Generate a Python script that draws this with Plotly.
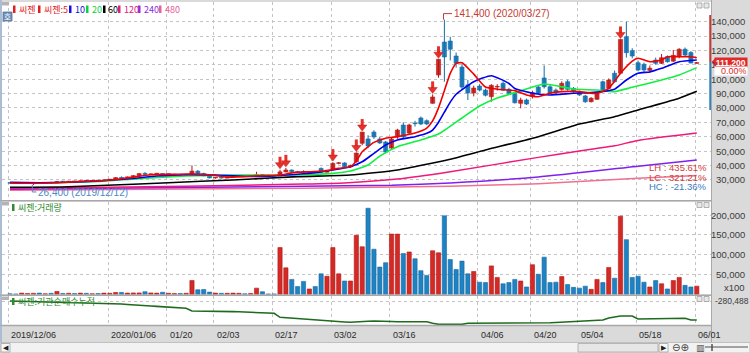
import plotly.graph_objects as go

W, H = 750, 353

# ---------------- data ----------------
tick_text = ["2019/12/06", "2020/01/06", "01/20", "02/03", "02/17", "03/02", "03/16",
             "04/06", "04/20", "05/04", "05/18", "06/01"]
tick_idx = [0, 17, 27, 35, 45, 55, 65, 80, 89, 97, 107, 117]

opens = [27900, 27600, 27400, 27700, 27300, 27600, 27500, 27900, 27800, 28800,
         28600, 28900, 28800, 29300, 29100, 29400, 29300, 29900, 30400, 31500,
         31200, 32000, 32900, 34500, 33700, 34100, 34300, 33800, 33400, 33600,
         33300, 33600, 36000, 34400, 32800, 31300, 31600, 31200, 31900, 32400,
         32800, 32500, 32900, 33700, 33100, 32900, 32700, 35500, 36800, 35700,
         35800, 35000, 35500, 37900, 35300, 37500, 41400, 41700, 39000, 42500,
         55400, 58400, 63200, 58400, 56300, 52100, 59800, 68100, 62500, 69500,
         73000, 71100, 83200, 102900, 125800, 126500, 116100, 108400, 96000, 90400,
         95200, 92400, 87800, 94500, 97100, 92900, 90200, 83200, 85500, 87800,
         94500, 100800, 94700, 92400, 92900, 98200, 93600, 91300, 88300, 84300,
         86000, 98200, 93600, 104100, 104100, 129500, 119800, 111400, 110300, 106100,
         113300, 111000, 115600, 112500, 115600, 120800, 118500, 111000]
highs = [28200, 27800, 27900, 27900, 27800, 28000, 28000, 28200, 29100, 29000,
         29100, 29200, 29400, 29600, 29500, 29800, 30100, 30600, 31800, 32300,
         32300, 33200, 34600, 35300, 34400, 34500, 34600, 34100, 33900, 33900,
         33800, 40000, 36800, 34900, 33200, 31900, 32000, 32100, 32600, 33000,
         33000, 33100, 35600, 34000, 33400, 33200, 37000, 38300, 37200, 36200,
         36600, 35800, 35900, 38600, 36900, 42300, 42400, 42200, 40500, 49000,
         63200, 61000, 64500, 60000, 57000, 59500, 65500, 70000, 69000, 71000,
         74000, 72000, 89400, 113800, 141400, 129500, 118500, 110500, 99500, 95500,
         96500, 93500, 96500, 96500, 98500, 94000, 91000, 87100, 86500, 92000,
         96000, 109600, 96000, 93500, 98500, 99500, 94500, 92000, 89000, 87500,
         91000, 99000, 100500, 106000, 127600, 140000, 121500, 113000, 111500, 109500,
         115000, 117500, 116500, 120300, 121500, 122000, 119500, 111900]
lows = [27500, 27200, 27200, 27300, 26400, 27300, 27300, 27600, 27700, 28400,
        28400, 28600, 28700, 29000, 28900, 29100, 29200, 29700, 30300, 31000,
        31100, 31800, 32700, 33400, 33500, 33700, 33600, 33300, 33000, 33200,
        33100, 33500, 34000, 32500, 31000, 30800, 31000, 31100, 31700, 32200,
        32300, 32300, 32800, 32900, 32700, 32500, 32600, 35200, 35300, 34800,
        34700, 34800, 35000, 35000, 35100, 37300, 40800, 38600, 38500, 42000,
        54000, 52000, 58500, 55000, 48500, 51500, 58500, 59000, 61500, 67000,
        68000, 68000, 83000, 101000, 98200, 113000, 108000, 93000, 85500, 88000,
        91500, 88000, 84300, 92000, 91800, 89500, 83000, 79700, 82000, 86500,
        89500, 93500, 89500, 89800, 92000, 92000, 90500, 88300, 83500, 83800,
        85500, 91500, 93000, 97500, 103500, 115000, 114500, 105500, 105000, 104500,
        110000, 110500, 111500, 112000, 114500, 115500, 111000, 110800]
closes = [27600, 27400, 27700, 27800, 27600, 27500, 27900, 27800, 28800, 28600,
          28900, 28800, 29300, 29100, 29400, 29300, 29900, 30400, 31500, 31200,
          32000, 32900, 34300, 33700, 34100, 34300, 33800, 33900, 33600, 33300,
          33600, 36000, 34400, 32800, 31300, 31600, 31200, 31900, 32400, 32800,
          32500, 32900, 33700, 33100, 32900, 32700, 35500, 36800, 35700, 35100,
          35000, 35500, 35200, 35300, 36700, 41400, 41700, 39000, 40000, 48600,
          63200, 53500, 59800, 55600, 49300, 58400, 64600, 59800, 68100, 69000,
          68800, 68800, 87600, 113800, 115400, 120800, 111000, 94500, 90400, 93800,
          92400, 88800, 95700, 95000, 92400, 90200, 83600, 85500, 82700, 90600,
          90200, 94700, 90200, 90500, 97100, 92900, 91300, 89000, 84300, 86700,
          90200, 92400, 99400, 98200, 127600, 118400, 116100, 106400, 106400, 107600,
          111000, 114900, 112100, 116500, 120800, 116800, 111200, 111200]
volumes = [2000, 1500, 3500, 2500, 3000, 3500, 2000, 3000, 7500, 2500,
           3000, 2500, 3500, 3000, 2000, 2500, 3500, 3000, 5000, 5000,
           3500, 4000, 4000, 7000, 4000, 3500, 5500, 3000, 2500, 2500,
           3000, 35000, 12000, 12500, 6000, 3500, 3000, 3000, 3500, 3000,
           2000, 2500, 16000, 7000, 1500, 1500, 118000, 67000, 38000, 20000,
           33000, 14000, 20000, 52000, 46000, 118000, 52000, 34000, 34000, 149000,
           120000, 217000, 114000, 69000, 80000, 152000, 152000, 103000, 107000, 90000,
           60000, 48000, 110000, 105000, 198000, 88000, 63000, 84000, 52000, 58000,
           31000, 30000, 72000, 43000, 27000, 30000, 38000, 34000, 19000, 75000,
           51000, 94000, 30000, 31000, 45000, 25000, 18000, 16000, 21000, 13000,
           38000, 30000, 68000, 41000, 197000, 138000, 43000, 46000, 31000, 19000,
           35000, 27000, 14000, 35000, 43000, 23000, 19000, 21000]
inst_cum = [-280500, -282000, -284000, -286000, -288900, -292500, -293500, -294500, -295500, -296100,
            -298500, -300000, -301500, -303000, -304500, -305500, -306900, -308100, -312000, -316000,
            -322000, -328500, -332100, -336000, -340000, -344500, -348900, -352500, -357000, -362500,
            -368100, -400500, -400500, -400500, -402000, -403500, -405000, -406500, -408000, -410000,
            -412000, -414000, -416100, -420000, -424000, -428100, -476100, -482000, -486000, -488100,
            -494000, -500000, -505000, -510000, -514500, -520500, -526000, -532000, -536100, -530000,
            -528900, -524000, -521000, -520500, -522000, -526000, -528900, -528900, -528900, -528900,
            -528900, -528900, -548000, -560100, -560100, -560100, -560100, -560100, -548100, -548100,
            -548100, -548100, -548100, -548100, -548100, -548100, -548100, -548100, -548100, -548100,
            -548100, -546000, -542000, -538000, -534000, -529000, -524000, -520500, -517000, -514500,
            -508500, -508500, -484500, -472000, -460500, -460500, -460500, -496500, -496500, -496500,
            -496500, -496500, -496500, -496500, -488100, -488100, -508500, -508500]

ma5_i = [0, 4, 8, 12, 16, 20, 24, 28, 31, 34, 37, 40, 43, 46, 48, 51, 54, 56, 58, 59, 60, 62, 64,
         66, 69, 71, 72, 73, 74, 75, 76, 77, 79, 81, 83, 86, 88, 90, 92, 94, 97, 100, 102, 104,
         106, 107, 109, 111, 112, 114, 116, 117]
ma5_v = [27800, 27600, 28000, 28800, 29500, 31300, 33500, 33800, 34000, 33500, 31900, 32300, 32900,
         33300, 34800, 35600, 36300, 38000, 39000, 43000, 49500, 56000, 58900, 60000, 62500, 66000,
         71000, 80000, 92000, 104000, 111000, 111400, 103500, 94500, 93000, 92000, 89000, 87800,
         90200, 91300, 91300, 90000, 93600, 104100, 112500, 114500, 112100, 113300, 115600, 115600,
         115600, 114900]
ma10_i = [0, 5, 10, 15, 20, 25, 30, 35, 40, 45, 50, 53, 55, 58, 60, 62, 64, 66, 69, 71, 72, 73, 74,
          75, 76, 79, 82, 85, 86, 89, 92, 96, 99, 103, 105, 107, 109, 111, 114, 117]
ma10_v = [28200, 28000, 28300, 29200, 30600, 32600, 33600, 33300, 32300, 32700, 34200, 35500, 36800,
          39100, 42500, 48400, 54200, 57700, 60000, 62300, 64600, 70000, 77000, 84000, 89500, 98200,
          102400, 97000, 93500, 90200, 89000, 90200, 90600, 93000, 99400, 104100, 105000, 107500,
          112100, 113300]
ma20_i = [0, 8, 15, 22, 30, 38, 45, 50, 55, 58, 61, 63, 66, 70, 73, 77, 80, 83, 87, 91, 96, 100,
          103, 106, 111, 114, 117]
ma20_v = [27600, 28000, 28800, 30800, 32600, 33300, 33200, 33600, 34500, 36100, 40300, 46500, 53000,
          57700, 61800, 73000, 81300, 86900, 91800, 96600, 93100, 92400, 91300, 94300, 99400, 102900,
          108000]
ma60_i = [0, 10, 21, 27, 38, 49, 58, 66, 75, 81, 90, 97, 103, 108, 114, 117]
ma60_v = [24800, 25200, 26900, 28000, 29900, 32200, 33300, 36800, 44300, 50700, 60000, 68800, 73900,
          79700, 86700, 91500]
ma120_i = [0, 30, 50, 57, 66, 75, 90, 97, 103, 107, 117]
ma120_v = [24000, 25500, 27000, 27800, 30500, 35600, 45600, 50000, 53600, 57400, 62500]
ma240_i = [0, 50, 65, 75, 90, 107, 117]
ma240_v = [23400, 25500, 26200, 27800, 32000, 39500, 43800]
ma480_i = [0, 50, 75, 90, 107, 117]
ma480_v = [22800, 24200, 25500, 27300, 31000, 33000]

price_ticks = [140000, 130000, 120000, 110000, 100000, 90000, 80000, 70000, 60000, 50000, 40000, 30000]
vol_ticks = [200000, 150000, 100000, 50000]
inst_tick = -280488
signal_idx = [46, 47, 55, 59, 60, 72, 73, 104]
high_idx, high_text = 74, "141,400 (2020/03/27)"
low_idx, low_text = 4, "26,400 (2019/12/12)"
last_price_text, last_change_text = "111,200", "0.00%"
stats = [("LH : 435.61%", "#D23C3C"), ("LC : 321.21%", "#D23C3C"), ("HC : -21.36%", "#3A7CC0")]
legend_items = [("씨젠", "#E0201C"), ("씨젠:5", "#E0201C"), ("10", "#1010E0"), ("20", "#10D040"),
                ("60", "#000000"), ("120", "#E0207A"), ("240", "#8A2BE2"), ("480", "#E8609A")]

# ---------------- geometry helpers ----------------
SLOT, X_OFF = 5.87, 10.0


def xi(px):
    return (px - X_OFF) / SLOT


def pp(y):  # paper y from pixel
    return 1 - y / H


def price_at(y):
    return 30000 + (179.8 - y) * 695.4


PX_WON = 695.4
x_range = [xi(2), xi(711)]
price_range = [price_at(200), price_at(2)]
VOL_PX = 200000 / 79.5
vol_range = [0, (294.5 - 201.5) * VOL_PX]
INST_PX = 12000
inst_range = [inst_tick - (325 - 301) * INST_PX, inst_tick + (301 - 296) * INST_PX]

RED, RED_L = "#D42A26", "#B01818"
BLUE, BLUE_L = "#1F82C2", "#176AA3"
AX_FONT = "Liberation Sans, Arial, sans-serif"
KR_FONT = "Noto Sans CJK KR, sans-serif"

fig = go.Figure()

idx = list(range(len(closes)))
up = [i for i in idx if closes[i] >= opens[i]]
dn = [i for i in idx if closes[i] < opens[i]]
MIN_BODY = 450

for group, col, lcol in ((up, RED, RED_L), (dn, BLUE, BLUE_L)):
    wx, wy = [], []
    for i in group:
        wx += [i, i, None]
        wy += [lows[i], highs[i], None]
    fig.add_trace(go.Scatter(x=wx, y=wy, mode="lines", line=dict(color=lcol, width=1),
                             hoverinfo="skip", xaxis="x", yaxis="y"))
    bases = [min(opens[i], closes[i]) for i in group]
    hts = [max(abs(closes[i] - opens[i]), MIN_BODY) for i in group]
    fig.add_trace(go.Bar(x=group, y=hts, base=bases, width=0.7,
                         marker=dict(color=col, line=dict(color=lcol, width=0.6)),
                         xaxis="x", yaxis="y"))

# moving averages
for xs, ys, col, w in ((ma480_i, ma480_v, "#F07090", 1.5), (ma240_i, ma240_v, "#8020F0", 1.5),
                       (ma120_i, ma120_v, "#F0187A", 1.5), (ma60_i, ma60_v, "#000000", 1.6),
                       (ma20_i, ma20_v, "#10F040", 1.6), (ma10_i, ma10_v, "#0000F0", 1.6),
                       (ma5_i, ma5_v, "#F00000", 1.6)):
    fig.add_trace(go.Scatter(x=xs, y=ys, mode="lines", line=dict(color=col, width=w, shape="spline",
                                                                 smoothing=0.5),
                             xaxis="x", yaxis="y"))

# signal arrows
fig.add_trace(go.Scatter(x=signal_idx, y=[highs[s] + 9.5 * PX_WON for s in signal_idx], mode="markers",
                         marker=dict(symbol="line-ns", size=5, line=dict(color="#E83028", width=3)),
                         xaxis="x", yaxis="y"))
fig.add_trace(go.Scatter(x=signal_idx, y=[highs[s] + 5 * PX_WON for s in signal_idx], mode="markers",
                         marker=dict(symbol="triangle-down", size=8, color="#E83028",
                                     line=dict(color="#C01818", width=0.5)),
                         xaxis="x", yaxis="y"))

# volume
fig.add_trace(go.Bar(x=idx, y=volumes, width=0.72,
                     marker=dict(color=[RED if closes[i] >= opens[i] else BLUE for i in idx],
                                 line=dict(color=[RED_L if closes[i] >= opens[i] else BLUE_L for i in idx],
                                           width=0.6)),
                     xaxis="x2", yaxis="y2"))

# institution cumulative
fig.add_trace(go.Scatter(x=idx, y=inst_cum, mode="lines", line=dict(color="#1E6B1E", width=1.6),
                         xaxis="x3", yaxis="y3"))

grid_x = [t - 0.3 for t in tick_idx]
common_x = dict(range=x_range, domain=[2 / W, 711 / W], showgrid=True, gridcolor="#C4C4C4",
                griddash="dot", gridwidth=1, tickvals=grid_x, showticklabels=False, ticks="",
                zeroline=False, showline=False, fixedrange=True)
common_y = dict(showgrid=True, gridcolor="#C4C4C4", griddash="dot", gridwidth=1, showticklabels=False,
                ticks="", zeroline=False, showline=False, fixedrange=True)

fig.update_layout(
    width=W, height=H, margin=dict(l=0, r=0, t=0, b=0),
    paper_bgcolor="#DADADA", plot_bgcolor="#FFFFFF", showlegend=False, barmode="overlay",
    xaxis=dict(anchor="y", **common_x),
    xaxis2=dict(anchor="y2", **common_x),
    xaxis3=dict(anchor="y3", **common_x),
    yaxis=dict(domain=[pp(200), pp(2)], range=price_range, tickvals=price_ticks, anchor="x", **common_y),
    yaxis2=dict(domain=[pp(294.5), pp(201.5)], range=vol_range, tickvals=vol_ticks, anchor="x2", **common_y),
    yaxis3=dict(domain=[pp(325), pp(296)], range=inst_range, tickvals=[inst_tick], anchor="x3", **common_y),
)

ann = []
shapes = []


def text(x, y, s, color="#333333", size=10, xanchor="left", font=AX_FONT, xref="paper", yref="paper",
         **kw):
    ann.append(dict(x=x, y=y, xref=xref, yref=yref, text=s, showarrow=False, xanchor=xanchor,
                    yanchor="middle", font=dict(family=font, size=size, color=color), **kw))


# price axis labels
for p in price_ticks:
    text(747 / W, p, f"{p:,}", xanchor="right", yref="y", size=9.5, color="#3A3A3A")
for v in vol_ticks:
    text(747 / W, v, f"{v:,}", xanchor="right", yref="y2", size=9.5, color="#3A3A3A")
text(747 / W, pp(287), "x100", xanchor="right", size=9.5, color="#3A3A3A")
text(749.5 / W, inst_tick, f"{inst_tick:,}", xanchor="right", yref="y3", size=8.5, color="#3A3A3A",
     borderpad=0)

# date labels
for t, s in zip(tick_idx, tick_text):
    text(t - 0.3, pp(335), s, xref="x", size=9, color="#2A2A2A", xshift=1)

# legend row: colour ticks as shapes + labels
leg_x = [13, 38, 69, 86, 103, 118, 138, 159]
for (s, c), lx in zip(legend_items, leg_x):
    shapes.append(dict(type="rect", xref="paper", yref="paper", x0=lx / W, x1=(lx + 2.5) / W,
                       y0=pp(13), y1=pp(5.5), fillcolor=c, line=dict(width=0)))
    text((lx + 3.5) / W, pp(9.5), s, color=c, size=9, font=KR_FONT)
for yy, s in ((207.5, "씨젠:거래량"), (301.5, "씨젠:기관순매수누적")):
    shapes.append(dict(type="rect", xref="paper", yref="paper", x0=12 / W, x1=14.5 / W,
                       y0=pp(yy + 3.5), y1=pp(yy - 3.5), fillcolor="#2E8B2E", line=dict(width=0)))
    text(16 / W, pp(yy), s, color="#2E8B2E", size=9, font=KR_FONT)

# high / low labels
text(high_idx, highs[high_idx] + 6 * PX_WON, high_text, xref="x", yref="y", color="#C83A32", size=10,
     xshift=8)
text(low_idx, lows[low_idx] - 8 * PX_WON, low_text, xref="x", yref="y", color="#4A88C8", size=10,
     xshift=3)
shapes.append(dict(type="path", xref="x", yref="y", line=dict(color="#C83A32", width=1),
                   path=f"M {high_idx - 0.15},{highs[high_idx]} L {high_idx - 0.15},{highs[high_idx] + 6 * PX_WON} "
                        f"L {high_idx + 1.3},{highs[high_idx] + 6 * PX_WON}"))
shapes.append(dict(type="path", xref="x", yref="y", line=dict(color="#4A88C8", width=1),
                   path=f"M {low_idx - 0.2},{lows[low_idx]} L {low_idx - 0.2},{lows[low_idx] - 7 * PX_WON} "
                        f"L {low_idx + 0.5},{lows[low_idx] - 7 * PX_WON}"))

# LH / LC / HC
for (s, c), yy in zip(stats, [167, 177, 186]):
    text(709 / W, pp(yy), s, xanchor="right", color=c, size=9.5)

# right range bars
shapes.append(dict(type="line", xref="paper", yref="paper", x0=710.5 / W, x1=710.5 / W, y0=pp(15), y1=pp(62),
                   line=dict(color="#D83030", width=2.5)))
shapes.append(dict(type="line", xref="paper", yref="paper", x0=710.5 / W, x1=710.5 / W, y0=pp(62), y1=pp(110),
                   line=dict(color="#2A86C6", width=2.5)))
# current price tag (covers the axis labels behind it, as in the terminal)
shapes.append(dict(type="path", xref="paper", yref="paper", fillcolor="#E02A2A", line=dict(width=0),
                   path=f"M {711.5 / W},{pp(62)} L {716 / W},{pp(57.5)} L {716 / W},{pp(66.5)} Z"))
ann.append(dict(x=747.5 / W, y=pp(62), xref="paper", yref="paper", text=f"<b>{last_price_text}</b>",
                showarrow=False, xanchor="right", yanchor="middle", bgcolor="#E02A2A", width=31.5, height=9,
                align="center", borderpad=0, font=dict(family=AX_FONT, size=8.5, color="#FFFFFF")))
ann.append(dict(x=747.5 / W, y=pp(71), xref="paper", yref="paper", text=last_change_text,
                showarrow=False, xanchor="right", yanchor="middle", bgcolor="#FFFFFF", width=31.5, height=8,
                align="right", borderpad=0, font=dict(family=AX_FONT, size=9, color="#E02A2A")))

# pane separators
for yy in (200.75, 295.25, 325.5):
    shapes.append(dict(type="line", xref="paper", yref="paper", x0=0, x1=711.5 / W, y0=pp(yy), y1=pp(yy),
                       line=dict(color="#A8A8A8", width=1.5)))
shapes.append(dict(type="line", xref="paper", yref="paper", x0=711.5 / W, x1=711.5 / W, y0=pp(342), y1=pp(0),
                   line=dict(color="#A8A8A8", width=1)))
shapes.append(dict(type="line", xref="paper", yref="paper", x0=1 / W, x1=1 / W, y0=pp(342), y1=pp(0),
                   line=dict(color="#9CB2CE", width=1.5)))

# small pane icons
for yy in (3.5, 203.5, 298):
    shapes.append(dict(type="rect", xref="paper", yref="paper", x0=2 / W, x1=9 / W, y0=pp(yy + 2),
                       y1=pp(yy - 1.5), fillcolor="#B4B4B4", line=dict(width=0)))
for yy in (5.5, 205, 299):
    for x0 in (697, 704):
        shapes.append(dict(type="rect", xref="paper", yref="paper", x0=x0 / W, x1=(x0 + 5) / W, y0=pp(yy + 2.5),
                           y1=pp(yy - 2.5), fillcolor="#E8E8E8", line=dict(color="#A0A0A0", width=0.8)))
shapes.append(dict(type="rect", xref="paper", yref="paper", x0=3 / W, x1=12 / W, y0=pp(21), y1=pp(12),
                   fillcolor="#6F8FB8", line=dict(color="#56759C", width=0.8)))
text(7.5 / W, pp(16.5), "호", xanchor="center", color="#FFFFFF", size=7.5, font=KR_FONT)

# bottom scroll bar
shapes.append(dict(type="rect", xref="paper", yref="paper", x0=0, x1=1, y0=0, y1=pp(342.5),
                   fillcolor="#F2F2F2", line=dict(color="#C0C0C0", width=1)))
shapes.append(dict(type="rect", xref="paper", yref="paper", x0=1 / W, x1=10 / W, y0=pp(352), y1=pp(343.5),
                   fillcolor="#F8F8F8", line=dict(color="#A0A0A0", width=0.8)))
text(5.5 / W, pp(347.8), "◀", xanchor="center", size=7, color="#202020", font="DejaVu Sans")
shapes.append(dict(type="rect", xref="paper", yref="paper", x0=578 / W, x1=658 / W, y0=pp(352), y1=pp(343.5),
                   fillcolor="#E6E6E6", line=dict(color="#A8A8A8", width=0.8)))
shapes.append(dict(type="rect", xref="paper", yref="paper", x0=659 / W, x1=668 / W, y0=pp(352), y1=pp(343.5),
                   fillcolor="#F8F8F8", line=dict(color="#A0A0A0", width=0.8)))
text(663.5 / W, pp(347.8), "▶", xanchor="center", size=7, color="#202020", font="DejaVu Sans")
text(670 / W, pp(347.5), "⊖⊕", size=10, color="#404040", font="DejaVu Sans")
text(694 / W, pp(347.5), "▥", size=9, color="#404040", font="DejaVu Sans")
shapes.append(dict(type="line", xref="paper", yref="paper", x0=705 / W, x1=748 / W, y0=pp(347), y1=pp(347),
                   line=dict(color="#505050", width=1)))
shapes.append(dict(type="line", xref="paper", yref="paper", x0=712 / W, x1=712 / W, y0=pp(351), y1=pp(344),
                   line=dict(color="#505050", width=1.5)))

fig.update_layout(annotations=ann, shapes=shapes)
fig.write_html("out.html")
